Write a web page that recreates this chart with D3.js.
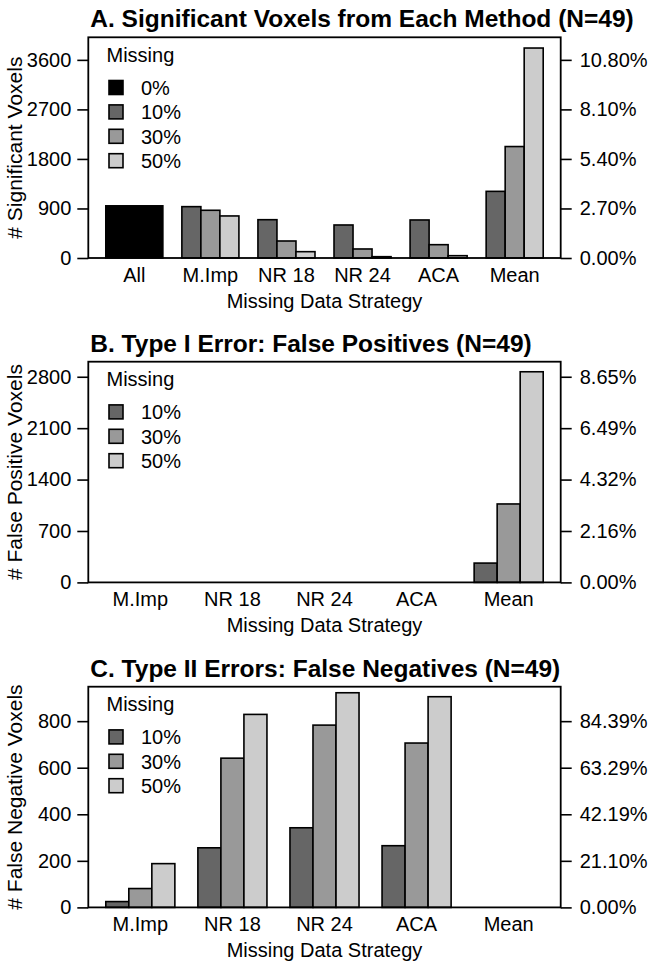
<!DOCTYPE html>
<html>
<head>
<meta charset="utf-8">
<script src="https://cdn.jsdelivr.net/npm/d3@7"></script>
<style>
  html, body { margin: 0; padding: 0; background: #fff; }
  svg { display: block; }
  text { font-family: "Liberation Sans", Arial, Helvetica, sans-serif; fill: #000; }
</style>
</head>
<body>
<svg id="chart" width="655" height="967"></svg>
<script>
// ---------------- DATA ----------------
const seriesLabels = ["0%", "10%", "30%", "50%"];
const seriesColors = ["#000000", "#666666", "#999999", "#cccccc"];

// Panel A: significant voxels
const categoriesA = ["All", "M.Imp", "NR 18", "NR 24", "ACA", "Mean"];
const sigAll0 = [948];                               // "All" (0% missing)
const sig10 = [933, 696, 600, 691, 1211];            // M.Imp, NR 18, NR 24, ACA, Mean
const sig30 = [867, 309, 164, 242, 2025];
const sig50 = [764, 115, 24, 42, 3815];

// Panels B & C categories
const categoriesBC = ["M.Imp", "NR 18", "NR 24", "ACA", "Mean"];
// Panel B: false positives
const fp10 = [0, 0, 0, 0, 263];
const fp30 = [0, 0, 0, 0, 1068];
const fp50 = [0, 0, 0, 0, 2868];
// Panel C: false negatives
const fn10 = [25, 256, 342, 265, 0];
const fn30 = [81, 641, 783, 706, 0];
const fn50 = [188, 829, 922, 905, 0];

// Tick values / labels
const ticksA = [0, 900, 1800, 2700, 3600];
const pctA = ["0.00%", "2.70%", "5.40%", "8.10%", "10.80%"];
const ticksB = [0, 700, 1400, 2100, 2800];
const pctB = ["0.00%", "2.16%", "4.32%", "6.49%", "8.65%"];
const ticksC = [0, 200, 400, 600, 800];
const pctC = ["0.00%", "21.10%", "42.19%", "63.29%", "84.39%"];

const titles = [
  "A. Significant Voxels from Each Method (N=49)",
  "B. Type I Error: False Positives (N=49)",
  "C. Type II Errors: False Negatives (N=49)"
];
const yTitles = ["# Significant Voxels", "# False Positive Voxels", "# False Negative Voxels"];
const xTitle = "Missing Data Strategy";
const legendTitle = "Missing";
const yMaxes = [4010, 3005, 948];

// ---------------- BUILD ----------------
const svg = d3.select("#chart");
const boxLeft = 88.3, boxRight = 560.7, boxH = 220.7;
const boxTops = [37.3, 361.7, 686.7];

function buildGroups(cats, seriesArrays) {
  return cats.map((c, i) => ({
    cat: c,
    bars: seriesArrays.map(s => ({ key: s.key, value: s.values[i] }))
  }));
}

const panels = [
  {
    groups: [{ cat: "All", bars: [{ key: "0%", value: sigAll0[0], full: true }] }]
      .concat(buildGroups(categoriesA.slice(1), [
        { key: "10%", values: sig10 }, { key: "30%", values: sig30 }, { key: "50%", values: sig50 }
      ])),
    ticks: ticksA, pct: pctA, legend: ["0%", "10%", "30%", "50%"]
  },
  {
    groups: buildGroups(categoriesBC, [
      { key: "10%", values: fp10 }, { key: "30%", values: fp30 }, { key: "50%", values: fp50 }
    ]),
    ticks: ticksB, pct: pctB, legend: ["10%", "30%", "50%"]
  },
  {
    groups: buildGroups(categoriesBC, [
      { key: "10%", values: fn10 }, { key: "30%", values: fn30 }, { key: "50%", values: fn50 }
    ]),
    ticks: ticksC, pct: pctC, legend: ["10%", "30%", "50%"]
  }
];

const color = d3.scaleOrdinal().domain(seriesLabels).range(seriesColors);

panels.forEach((p, pi) => {
  const top = boxTops[pi], bottom = top + boxH;
  const g = svg.append("g");
  const n = p.groups.length;
  const outer = 0.04 * (4 * n - 1) / 4;

  const x0 = d3.scaleBand()
    .domain(p.groups.map(d => d.cat))
    .range([boxLeft, boxRight])
    .paddingInner(0.25)
    .paddingOuter(outer);
  const x1 = d3.scaleBand().domain(["10%", "30%", "50%"]).range([0, x0.bandwidth()]).padding(0);
  const y = d3.scaleLinear().domain([0, yMaxes[pi]]).range([bottom, top]);

  // bars
  p.groups.forEach(grp => {
    grp.bars.forEach(b => {
      const bx = b.full ? x0(grp.cat) : x0(grp.cat) + x1(b.key);
      const bw = b.full ? x0.bandwidth() : x1.bandwidth();
      g.append("rect")
        .attr("x", bx).attr("y", y(b.value))
        .attr("width", bw).attr("height", y(0) - y(b.value))
        .attr("fill", color(b.key))
        .attr("stroke", "#000").attr("stroke-width", 1.6);
    });
  });

  // box
  g.append("rect")
    .attr("x", boxLeft).attr("y", top)
    .attr("width", boxRight - boxLeft).attr("height", boxH)
    .attr("fill", "none").attr("stroke", "#000").attr("stroke-width", 1.8);

  // left axis
  const la = g.append("g").attr("transform", `translate(${boxLeft},0)`)
    .call(d3.axisLeft(y).tickValues(p.ticks).tickSize(11).tickPadding(6).tickFormat(d3.format("d")));
  la.select(".domain").remove();
  la.selectAll("line").attr("stroke", "#000").attr("stroke-width", 1.6);
  la.selectAll("text").attr("font-size", 20).attr("font-family", null);

  // right axis
  const ra = g.append("g").attr("transform", `translate(${boxRight},0)`)
    .call(d3.axisRight(y).tickValues(p.ticks).tickSize(11).tickPadding(8)
      .tickFormat((d, i) => p.pct[i]));
  ra.select(".domain").remove();
  ra.selectAll("line").attr("stroke", "#000").attr("stroke-width", 1.6);
  ra.selectAll("text").attr("font-size", 20).attr("font-family", null);

  // category labels
  p.groups.forEach(grp => {
    g.append("text")
      .attr("x", x0(grp.cat) + x0.bandwidth() / 2)
      .attr("y", bottom + 24)
      .attr("text-anchor", "middle")
      .attr("font-size", 20)
      .text(grp.cat);
  });

  // x title
  g.append("text")
    .attr("x", (boxLeft + boxRight) / 2)
    .attr("y", bottom + 50)
    .attr("text-anchor", "middle")
    .attr("font-size", 20)
    .text(xTitle);

  // y title
  g.append("text")
    .attr("transform", `translate(21.5,${(top + bottom) / 2}) rotate(-90)`)
    .attr("text-anchor", "middle")
    .attr("font-size", 21)
    .text(yTitles[pi]);

  // title
  g.append("text")
    .attr("x", boxLeft + 2)
    .attr("y", top - 10)
    .attr("font-size", 24.5)
    .attr("font-weight", "bold")
    .text(titles[pi]);

  // legend
  g.append("text")
    .attr("x", 106.5).attr("y", top + 24.4)
    .attr("font-size", 20)
    .text(legendTitle);
  p.legend.forEach((lab, i) => {
    const cy = top + 50.2 + i * 24.4;
    g.append("rect")
      .attr("x", 109).attr("y", cy - 7)
      .attr("width", 14).attr("height", 14)
      .attr("fill", color(lab)).attr("stroke", "#000").attr("stroke-width", 1.6);
    g.append("text")
      .attr("x", 141).attr("y", cy)
      .attr("dy", "0.36em")
      .attr("font-size", 20)
      .text(lab);
  });
});
</script>
</body>
</html>
